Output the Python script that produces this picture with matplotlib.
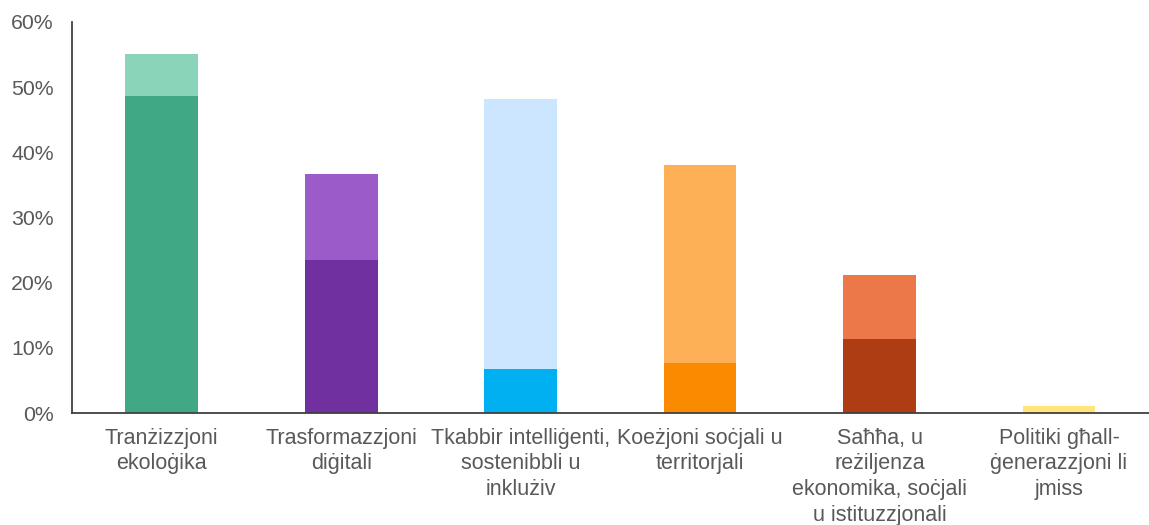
import matplotlib.pyplot as plt
from matplotlib.ticker import PercentFormatter

plt.rcParams['font.family'] = ['Liberation Sans', 'DejaVu Sans']

# categories and values (percent)
categories = [
    'Tranżizzjoni\nekoloġika',
    'Trasformazzjoni\ndiġitali',
    'Tkabbir intelliġenti,\nsostenibbli u\ninklużiv',
    'Koeżjoni soċjali u\nterritorjali',
    'Saħħa, u\nreżiljenza\nekonomika, soċjali\nu istituzzjonali',
    'Politiki għall-\nġenerazzjoni li\njmiss',
]
base_vals = [48.7, 23.5, 6.7, 7.7, 11.3, 0.0]
top_vals = [6.3, 13.2, 41.5, 30.3, 9.9, 1.0]

base_colors = ['#41A886', '#70309F', '#00B0F0', '#FA8A00', '#AE3D14', '#FFE57A']
top_colors = ['#8AD4B9', '#9B5BC9', '#CCE6FF', '#FEB056', '#EC784A', '#FFE57A']

text_col = '#595959'

fig = plt.figure(figsize=(11.49, 5.25), dpi=100)
ax = fig.add_axes([0.0627, 0.2133, 0.937, 0.745])

x = range(len(categories))
ax.bar(x, base_vals, width=0.405, color=base_colors)
ax.bar(x, top_vals, bottom=base_vals, width=0.405, color=top_colors)

ax.set_xlim(-0.5, 5.5)
ax.set_ylim(0, 60)
ax.set_yticks([0, 10, 20, 30, 40, 50, 60])
ax.yaxis.set_major_formatter(PercentFormatter(decimals=0))
ax.set_xticks(list(x))
ax.set_xticklabels(categories, linespacing=1.3)

for s in ['top', 'right']:
    ax.spines[s].set_visible(False)
for s in ['left', 'bottom']:
    ax.spines[s].set_color('#404040')
    ax.spines[s].set_linewidth(1.3)

ax.tick_params(axis='y', length=0, pad=13, labelsize=15.3, labelcolor=text_col)
ax.tick_params(axis='x', length=0, pad=10.5, labelsize=15.5, labelcolor=text_col)

fig.savefig('out.png', dpi=100)
